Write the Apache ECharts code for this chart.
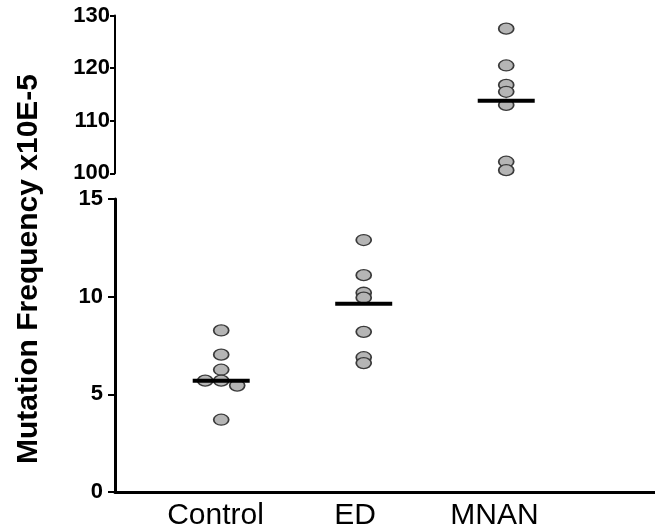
<!DOCTYPE html>
<html>
<head>
<meta charset="utf-8">
<script src="https://cdn.jsdelivr.net/npm/echarts@6/dist/echarts.min.js"></script>
<style>
  html, body { margin: 0; padding: 0; background: #fff; }
  #myChart { width: 655px; height: 532px; }
</style>
</head>
<body>
<div id="myChart"></div>
<script>
// data
const groups = ['Control', 'ED', 'MNAN'];
const controlValues = [8.27, 7.03, 6.26, 5.7, 5.7, 5.45, 3.7];
const edValues = [12.9, 11.1, 10.2, 9.95, 8.2, 6.9, 6.6];
const mnanValues = [127.5, 120.5, 116.8, 115.5, 113.0, 102.2, 100.6];
const groupMeans = [5.7, 9.64, 113.8];
const lowerTicks = [0, 5, 10, 15];
const upperTicks = [100, 110, 120, 130];

const myChart = echarts.init(document.getElementById('myChart'));

const font = '"Liberation Sans", Arial, sans-serif';
const dotStyle = { color: '#b5b5b5', borderColor: '#3a3a3a', borderWidth: 1.5, opacity: 1 };
// side-by-side dots where values touch (pixels)
const controlShift = { 3: -16, 5: 16 };

function dots(values, x, panel, shift) {
    return {
        type: 'scatter',
        xAxisIndex: panel,
        yAxisIndex: panel,
        symbol: 'circle',
        symbolSize: [15, 11],
        itemStyle: dotStyle,
        z: 2,
        data: values.map((v, k) => ({
            value: [x, v],
            symbolOffset: [(shift && shift[k]) || 0, 0]
        }))
    };
}

const lowerMeans = [], upperMeans = [];
groupMeans.forEach((m, i) => {
    (m >= upperTicks[0] ? upperMeans : lowerMeans).push([i + 1, m]);
});
const meanSeries = (data, panel) => ({
    type: 'scatter',
    xAxisIndex: panel,
    yAxisIndex: panel,
    symbol: 'rect',
    symbolSize: [57, 4],
    itemStyle: { color: '#000', opacity: 1 },
    z: 3,
    data: data
});

const option = {
    backgroundColor: '#fff',
    animation: false,
    grid: [
        { left: 115, right: 0, top: 15.5, height: 157.8 },
        { left: 115, right: 0, top: 199, height: 293 }
    ],
    xAxis: [
        { gridIndex: 0, type: 'value', min: 0.2547, max: 4.044, show: false },
        { gridIndex: 1, type: 'value', min: 0.2547, max: 4.044, show: false },
        {
            gridIndex: 1, type: 'value', position: 'bottom', min: 0.2796, max: 4.1505,
            axisLine: { show: true, onZero: false, lineStyle: { color: '#000', width: 3 } },
            axisTick: { show: false },
            splitLine: { show: false },
            axisLabel: {
                customValues: [1, 2, 3],
                formatter: v => groups[Math.round(v) - 1],
                color: '#000', fontSize: 30, fontFamily: font, margin: 9
            }
        }
    ],
    yAxis: [
        {
            gridIndex: 0, type: 'value',
            min: upperTicks[0], max: upperTicks[upperTicks.length - 1], interval: 10,
            axisLine: { show: true, lineStyle: { color: '#000', width: 2 } },
            axisTick: { show: true, length: 5, lineStyle: { color: '#000', width: 2 } },
            splitLine: { show: false },
            axisLabel: { color: '#000', fontSize: 22, fontWeight: 'bold', fontFamily: font, margin: 5 }
        },
        {
            gridIndex: 1, type: 'value',
            min: lowerTicks[0], max: lowerTicks[lowerTicks.length - 1], interval: 5,
            axisLine: { show: true, lineStyle: { color: '#000', width: 3 } },
            axisTick: { show: true, length: 7, lineStyle: { color: '#000', width: 2 } },
            splitLine: { show: false },
            axisLabel: { color: '#000', fontSize: 22, fontWeight: 'bold', fontFamily: font, margin: 12 }
        }
    ],
    graphic: [{
        type: 'text',
        x: 29,
        y: 269,
        rotation: Math.PI / 2,
        style: {
            text: 'Mutation Frequency x10E-5',
            font: 'bold 30px ' + font,
            fill: '#000',
            textAlign: 'center',
            textVerticalAlign: 'middle',
            align: 'center',
            verticalAlign: 'middle'
        }
    }],
    series: [
        dots(controlValues, 1, 1, controlShift),
        dots(edValues, 2, 1),
        dots(mnanValues, 3, 0),
        meanSeries(lowerMeans, 1),
        meanSeries(upperMeans, 0)
    ]
};

myChart.setOption(option);
window.addEventListener('resize', () => myChart.resize());
</script>
</body>
</html>
